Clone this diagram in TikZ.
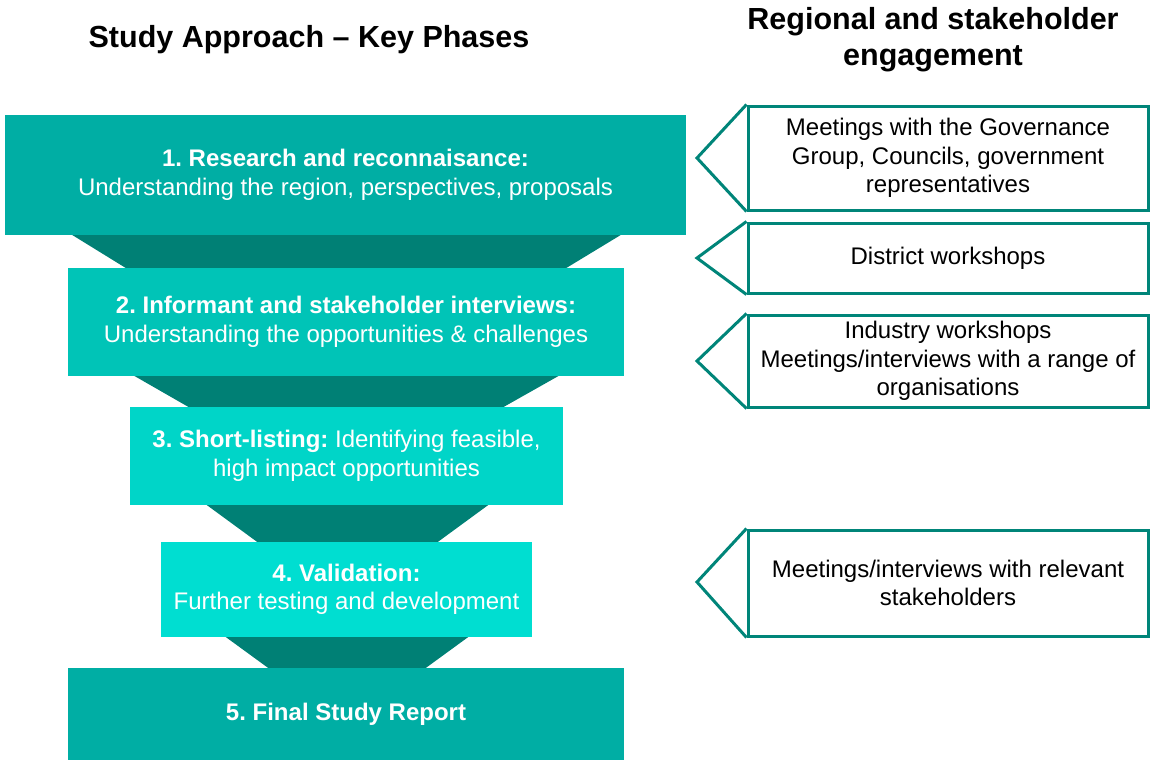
\documentclass[tikz,border=0pt]{standalone}
\usepackage{fontspec}
\setmainfont{Liberation Sans}
\usetikzlibrary{positioning}
\frenchspacing
\definecolor{phaseA}{RGB}{0,174,164}
\definecolor{phaseB}{RGB}{0,196,183}
\definecolor{phaseC}{RGB}{0,213,200}
\definecolor{phaseD}{RGB}{0,222,209}
\definecolor{funnelDark}{RGB}{0,128,117}
\definecolor{engageLine}{RGB}{0,133,121}
\begin{document}
\begin{tikzpicture}[x=1pt,y=-1pt,
	phase/.style={fill=#1, text=white, align=center, inner sep=0pt, font=\fontsize{24}{28.5}\selectfont},
	engage/.style={draw=engageLine, line width=3pt, fill=white, align=center, inner sep=0pt,
		minimum width=400pt, font=\fontsize{24}{28.5}\selectfont},
	pointer/.style={draw=engageLine, line width=3pt},
	funnel/.style={fill=funnelDark},
	heading/.style={align=center, font=\fontsize{30.5}{36}\selectfont\bfseries}]
	\useasboundingbox (0,0) rectangle (1150,761);
	%Headings
	\node [heading] (headPhases) at (309,40) {Study Approach -- Key Phases};
	\node [heading] (headEngage) at (933,40) {Regional and stakeholder\\engagement};
	%Funnel pieces between the phases
	\fill [funnel] (69,233) -- (624,233) -- (563,270) -- (129,270) -- cycle;
	\fill [funnel] (131,374) -- (562,374) -- (500,409) -- (192,409) -- cycle;
	\fill [funnel] (204,503) -- (491,503) -- (435,544) -- (260,544) -- cycle;
	\fill [funnel] (223,635) -- (471,635) -- (423,670) -- (271,670) -- cycle;
	%Key phases
	\node [phase=phaseA, minimum width=681pt, minimum height=120pt] (phase1) at (345.5,175)
		{\textbf{1. Research and reconnaisance:}\\Understanding the region, perspectives, proposals};
	\node [phase=phaseB, minimum width=556pt, minimum height=108pt] (phase2) at (346,322)
		{\textbf{2. Informant and stakeholder interviews:}\\Understanding the opportunities \& challenges};
	\node [phase=phaseC, minimum width=433pt, minimum height=98pt] (phase3) at (346.5,456)
		{\textbf{3. Short-listing:} Identifying feasible,\\high impact opportunities};
	\node [phase=phaseD, minimum width=371pt, minimum height=95pt] (phase4) at (346.5,589.5)
		{\textbf{4. Validation:}\\Further testing and development};
	\node [phase=phaseA, minimum width=556pt, minimum height=92pt] (phase5) at (346,714)
		{\textbf{5. Final Study Report}};
	%Engagement boxes
	\node [engage, minimum height=104pt] (engage1) at (948,158)
		{Meetings with the Governance\\Group, Councils, government\\representatives};
	\node [engage, minimum height=70pt] (engage2) at (948,258) {District workshops};
	\node [engage, minimum height=92pt] (engage3) at (948,361)
		{Industry workshops\\Meetings/interviews with a range of\\organisations};
	\node [engage, minimum height=106pt] (engage4) at (948,583)
		{Meetings/interviews with relevant\\stakeholders};
	%Pointers on the left of the engagement boxes
	\coordinate (tip1) at (697,158);
	\coordinate (tip2) at (697,258);
	\coordinate (tip3) at (697,361);
	\coordinate (tip4) at (697,582);
	\draw [pointer] (engage1.north west) -- (tip1) -- (engage1.south west);
	\draw [pointer] (engage2.north west) -- (tip2) -- (engage2.south west);
	\draw [pointer] (engage3.north west) -- (tip3) -- (engage3.south west);
	\draw [pointer] (engage4.north west) -- (tip4) -- (engage4.south west);
\end{tikzpicture}
\end{document}
